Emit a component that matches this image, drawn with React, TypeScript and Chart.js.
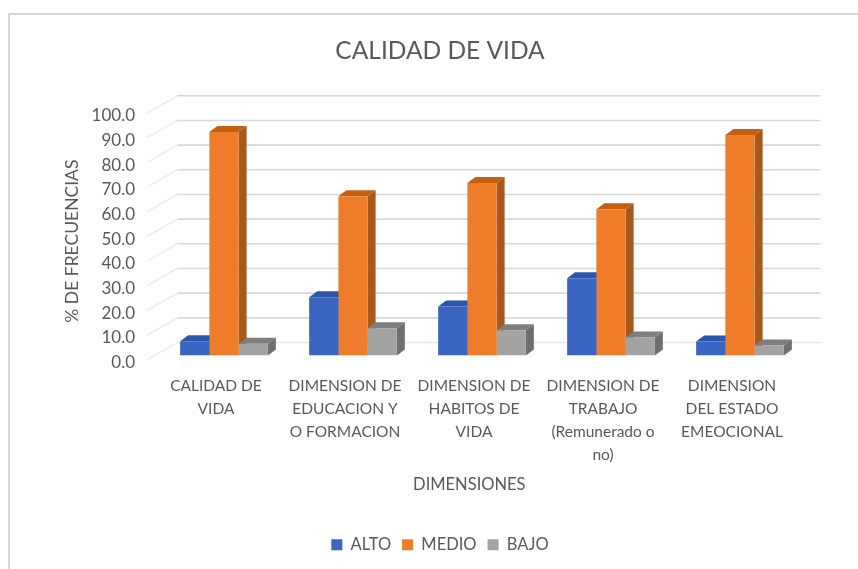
import React, { useEffect, useRef } from "react";
import { Chart, registerables } from "chart.js";

Chart.register(...registerables);

const categories = [
  ["CALIDAD DE", "VIDA"],
  ["DIMENSION DE", "EDUCACION Y", "O FORMACION"],
  ["DIMENSION DE", "HABITOS DE", "VIDA"],
  ["DIMENSION DE", "TRABAJO", "(Remunerado o", "no)"],
  ["DIMENSION", "DEL ESTADO", "EMEOCIONAL"],
];
const alto = [5.8, 23.6, 19.9, 31.3, 5.7];
const medio = [90.6, 64.6, 69.9, 59.3, 89.4];
const bajo = [4.8, 11.0, 10.2, 7.3, 4.1];

const FONT = "Lato";
const TEXT = "#595959";
const SHADES = [
  { front: "#3a66c2", top: "#2a55a8", side: "#2c5199" },
  { front: "#ef7c2a", top: "#c4600f", side: "#a9581c" },
  { front: "#a3a3a3", top: "#7e7e7e", side: "#6c7070" },
];
const DX = 8;
const DY = 6;

const depthPlugin = {
  id: "depth",
  beforeDraw(chart: any) {
    const { ctx, width, height } = chart;
    ctx.save();
    ctx.strokeStyle = "#d4d4d4";
    ctx.lineWidth = 2;
    ctx.beginPath();
    ctx.moveTo(9, height);
    ctx.lineTo(9, 14);
    ctx.lineTo(width, 14);
    ctx.stroke();
    ctx.restore();
  },
  beforeDatasetsDraw(chart: any) {
    const { ctx, chartArea, scales } = chart;
    const y = scales.y;
    ctx.save();
    const backLeft = chartArea.left + 18;
    const backRight = chartArea.right + 16;
    for (let v = 0; v <= 100; v += 10) {
      const py = y.getPixelForValue(v) - 13;
      ctx.strokeStyle = "#f0f0f0";
      ctx.lineWidth = 2;
      ctx.beginPath();
      ctx.moveTo(backLeft, py);
      ctx.lineTo(backLeft - 30, py + 17);
      ctx.stroke();
      ctx.strokeStyle = v === 0 ? "#e6e6e6" : "#d9d9d9";
      ctx.lineWidth = 1.6;
      ctx.beginPath();
      ctx.moveTo(backLeft, py);
      ctx.lineTo(backRight, py);
      ctx.stroke();
    }
    chart.data.datasets.forEach((_: any, i: number) => {
      const shade = SHADES[i];
      chart.getDatasetMeta(i).data.forEach((bar: any) => {
        const { x, y: top, base, width } = bar.getProps(["x", "y", "base", "width"], true);
        const l = x - width / 2;
        const r = x + width / 2;
        ctx.fillStyle = shade.top;
        ctx.beginPath();
        ctx.moveTo(l, top);
        ctx.lineTo(l + DX, top - DY);
        ctx.lineTo(r + DX, top - DY);
        ctx.lineTo(r, top);
        ctx.closePath();
        ctx.fill();
        ctx.fillStyle = shade.side;
        ctx.beginPath();
        ctx.moveTo(r, top);
        ctx.lineTo(r + DX, top - DY);
        ctx.lineTo(r + DX, base - DY);
        ctx.lineTo(r, base);
        ctx.closePath();
        ctx.fill();
      });
    });
    ctx.restore();
  },
};

export default function App() {
  const ref = useRef<HTMLCanvasElement>(null);
  useEffect(() => {
    const chart = new Chart(ref.current!, {
      type: "bar",
      data: {
        labels: categories as any,
        datasets: [
          { label: "ALTO", data: alto, backgroundColor: SHADES[0].front },
          { label: "MEDIO", data: medio, backgroundColor: SHADES[1].front },
          { label: "BAJO", data: bajo, backgroundColor: SHADES[2].front },
        ],
      },
      options: {
        responsive: false,
        animation: false,
        layout: { padding: { left: 22, right: 0, top: 0, bottom: 6 } },
        datasets: { bar: { barPercentage: 1, categoryPercentage: 0.68, borderWidth: 0 } },
        plugins: {
          tooltip: { enabled: false },
          title: {
            display: true,
            text: "CALIDAD DE VIDA",
            color: TEXT,
            font: { family: FONT, size: 24.5, weight: "normal" },
            padding: { top: 36, bottom: 43.4 },
          },
          legend: {
            position: "bottom",
            labels: {
              color: TEXT,
              boxWidth: 11,
              boxHeight: 11,
              padding: 11,
              font: { family: FONT, size: 16.5 },
            },
          },
        },
        scales: {
          x: {
            grid: { display: false },
            border: { display: false },
            ticks: {
              color: TEXT,
              font: { family: FONT, size: 15.5, lineHeight: 1.48 },
              padding: 11,
              labelOffset: -8,
              maxRotation: 0,
              autoSkip: false,
            },
            title: {
              display: true,
              text: "DIMENSIONES\u00A0\u00A0\u00A0\u00A0\u00A0\u00A0",
              color: TEXT,
              font: { family: FONT, size: 16.5 },
              padding: { top: 0, bottom: 30.5 },
            },
            afterFit(scale: any) {
              scale.height = 170;
              scale.paddingRight = 53.5;
            },
          },
          y: {
            min: 0,
            max: 100,
            grid: { display: false },
            border: { display: false },
            ticks: {
              stepSize: 10,
              color: TEXT,
              font: { family: FONT, size: 17 },
              padding: 16.5,
              labelOffset: 7,
              callback: (v: any) => Number(v).toFixed(1),
            },
            title: {
              display: true,
              text: "% DE FRECUENCIAS\u00A0\u00A0\u00A0\u00A0",
              color: TEXT,
              font: { family: FONT, size: 17.5 },
              padding: { top: 40, bottom: 0 },
            },
            afterFit(scale: any) {
              scale.width = 137.5;
            },
          },
        },
      } as any,
      plugins: [depthPlugin],
    });
    return () => chart.destroy();
  }, []);
  return (
    <canvas
      ref={ref}
      width={858}
      height={569}
      style={{ position: "fixed", left: 0, top: 0, display: "block" }}
    />
  );
}
